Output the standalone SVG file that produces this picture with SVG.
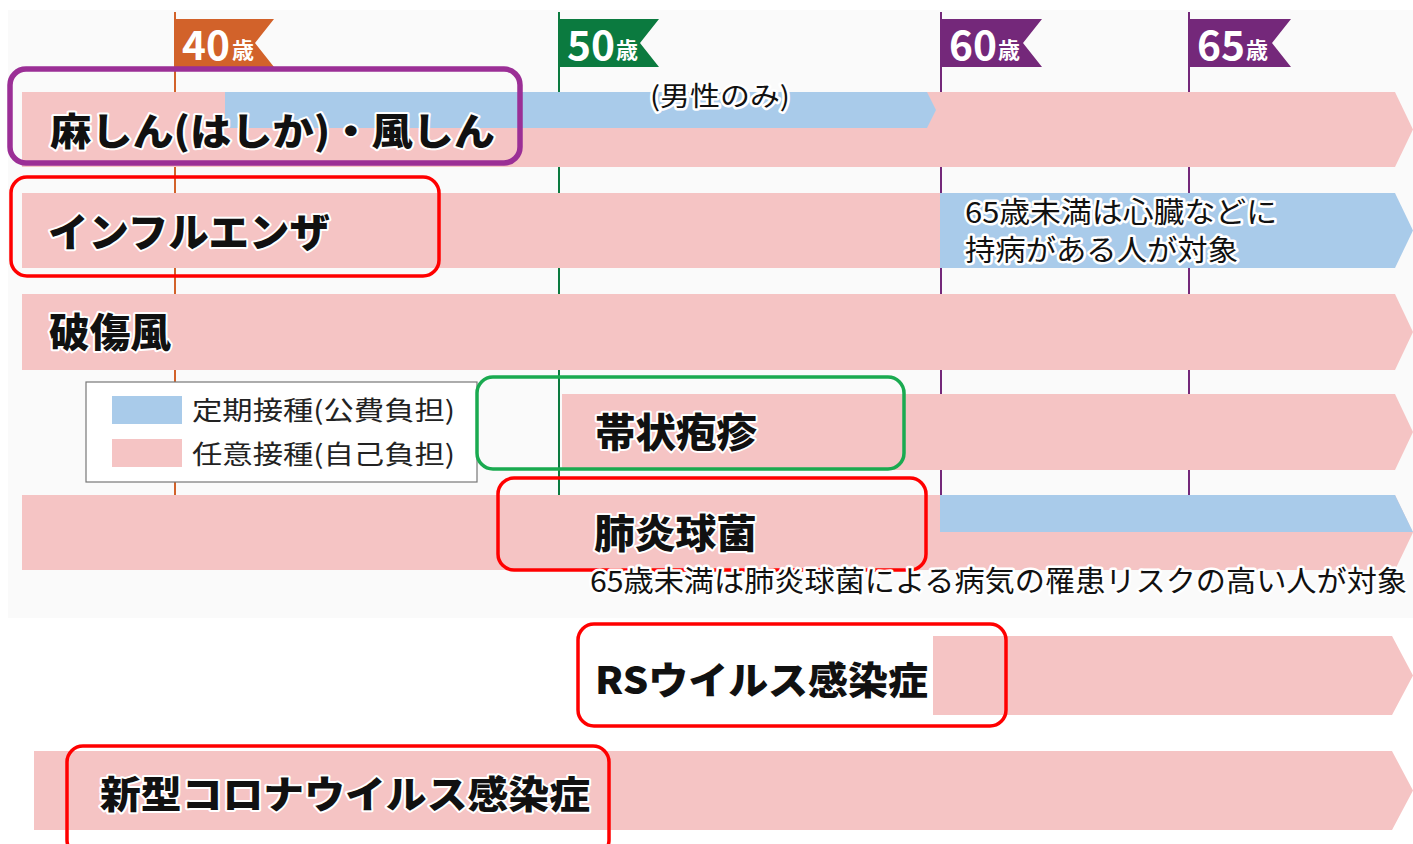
<svg xmlns="http://www.w3.org/2000/svg" width="1413" height="844" viewBox="0 0 1413 844">
<style>
.pink{fill:#f5c4c4}
.blue{fill:#a9cbea}
.title{font-family:"Noto Sans CJK JP","Noto Sans",sans-serif;font-weight:900;fill:#111;stroke:#fff;stroke-width:4;paint-order:stroke;stroke-linejoin:round}
.note{font-family:"Noto Sans CJK JP","Noto Sans",sans-serif;font-weight:normal;fill:#111;stroke:#fff;stroke-width:5;paint-order:stroke;stroke-linejoin:round}
.leg{font-family:"Noto Sans CJK JP","Noto Sans",sans-serif;fill:#222;font-size:26px}
.flagnum{font-family:"Noto Sans CJK JP","Noto Sans",sans-serif;font-weight:bold;fill:#fff}
.box{fill:none;stroke-width:3.5}
.box.purple{stroke-width:5.5}
</style>
<rect x="8" y="10" width="1405" height="608" fill="#fafafa"/>

<g id="axis">
  <line x1="175" y1="12" x2="175" y2="495" stroke="#d2622a" stroke-width="2"/>
  <line x1="559" y1="12" x2="559" y2="495" stroke="#0b7a3f" stroke-width="2"/>
  <line x1="941" y1="12" x2="941" y2="495" stroke="#74287a" stroke-width="2"/>
  <line x1="1189" y1="12" x2="1189" y2="495" stroke="#74287a" stroke-width="2"/>
  <g id="flag40">
    <path d="M175,19 L274,19 L255,43 L274,67 L175,67 Z" fill="#d2622a"/>
    <text class="flagnum" x="182" y="60" font-size="40" textLength="48" lengthAdjust="spacingAndGlyphs">40</text>
    <text class="flagnum" x="232" y="58" font-size="22">歳</text>
  </g>
  <g id="flag50">
    <path d="M559,19 L659,19 L640,43 L659,67 L559,67 Z" fill="#0b7a3f"/>
    <text class="flagnum" x="567" y="60" font-size="40" textLength="48" lengthAdjust="spacingAndGlyphs">50</text>
    <text class="flagnum" x="616" y="58" font-size="22">歳</text>
  </g>
  <g id="flag60">
    <path d="M941,19 L1042,19 L1023,43 L1042,67 L941,67 Z" fill="#74287a"/>
    <text class="flagnum" x="949" y="60" font-size="40" textLength="48" lengthAdjust="spacingAndGlyphs">60</text>
    <text class="flagnum" x="998" y="58" font-size="22">歳</text>
  </g>
  <g id="flag65">
    <path d="M1189,19 L1291,19 L1272,43 L1291,67 L1189,67 Z" fill="#74287a"/>
    <text class="flagnum" x="1197" y="60" font-size="40" textLength="48" lengthAdjust="spacingAndGlyphs">65</text>
    <text class="flagnum" x="1246" y="58" font-size="22">歳</text>
  </g>
</g>

<g id="measles">
  <path class="pink" d="M22,92 L1395,92 L1413,129.5 L1395,167 L22,167 Z"/>
  <path class="blue" d="M225,92 L927,92 L936,110 L927,128 L225,128 Z"/>
  <text class="note" x="650" y="106" font-size="27" textLength="140" lengthAdjust="spacingAndGlyphs">(男性のみ)</text>
  <text class="title" x="50" y="145" font-size="38" textLength="445" lengthAdjust="spacingAndGlyphs">麻しん(はしか)・風しん</text>
  <rect class="box purple" x="10" y="69" width="510" height="94" rx="16" stroke="#9b2f96"/>
</g>

<g id="influenza">
  <path class="pink" d="M22,193 L941,193 L941,268 L22,268 Z"/>
  <path class="blue" d="M940,193 L1395,193 L1413,230.5 L1395,268 L940,268 Z"/>
  <text class="title" x="48" y="247" font-size="40" textLength="282" lengthAdjust="spacingAndGlyphs">インフルエンザ</text>
  <text class="note" x="965" y="223" font-size="29" textLength="312" lengthAdjust="spacingAndGlyphs">65歳未満は心臓などに</text>
  <text class="note" x="965" y="261" font-size="29" textLength="273" lengthAdjust="spacingAndGlyphs">持病がある人が対象</text>
  <rect class="box" x="11" y="177" width="428" height="99" rx="16" stroke="#f00"/>
</g>

<g id="tetanus">
  <path class="pink" d="M22,294 L1395,294 L1413,332 L1395,370 L22,370 Z"/>
  <text class="title" x="49" y="347" font-size="40" textLength="122" lengthAdjust="spacingAndGlyphs">破傷風</text>
</g>

<g id="legend">
  <rect x="86" y="382" width="391" height="100" fill="#fff" stroke="#777" stroke-width="1.2"/>
  <rect x="112" y="396" width="70" height="28" class="blue"/>
  <rect x="112" y="439" width="70" height="28" class="pink"/>
  <text class="leg" x="192" y="420" textLength="263" lengthAdjust="spacingAndGlyphs">定期接種(公費負担)</text>
  <text class="leg" x="192" y="464" textLength="263" lengthAdjust="spacingAndGlyphs">任意接種(自己負担)</text>
</g>

<g id="shingles">
  <path class="pink" d="M562,394 L1395,394 L1413,432 L1395,470 L562,470 Z"/>
  <text class="title" x="595" y="447" font-size="40" textLength="162" lengthAdjust="spacingAndGlyphs">帯状疱疹</text>
  <rect class="box" x="477" y="377" width="427" height="92" rx="16" stroke="#1aaa50"/>
</g>

<g id="pneumococcus">
  <path class="pink" d="M22,495 L1395,495 L1413,532.5 L1395,570 L22,570 Z"/>
  <path class="blue" d="M940,495 L1395,495 L1413,532 L940,532 Z"/>
  <text class="title" x="594" y="548" font-size="40" textLength="163" lengthAdjust="spacingAndGlyphs">肺炎球菌</text>
  <rect class="box" x="498" y="478" width="428" height="92" rx="16" stroke="#f00"/>
  <text class="note" x="590" y="592" font-size="29" textLength="817" lengthAdjust="spacingAndGlyphs">65歳未満は肺炎球菌による病気の罹患リスクの高い人が対象</text>
</g>

<g id="rsv">
  <path class="pink" d="M933,636 L1392,636 L1413,675.5 L1392,715 L933,715 Z"/>
  <rect class="box" x="578" y="624" width="428" height="102" rx="16" stroke="#f00"/>
  <text class="title" x="595" y="694" font-size="38" textLength="333" lengthAdjust="spacingAndGlyphs">RSウイルス感染症</text>
</g>

<g id="covid">
  <path class="pink" d="M34,751 L1392,751 L1413,790.5 L1392,830 L34,830 Z"/>
  <rect class="box" x="67" y="746" width="542" height="110" rx="16" stroke="#f00"/>
  <text class="title" x="100" y="808" font-size="38" textLength="490" lengthAdjust="spacingAndGlyphs">新型コロナウイルス感染症</text>
</g>
</svg>
